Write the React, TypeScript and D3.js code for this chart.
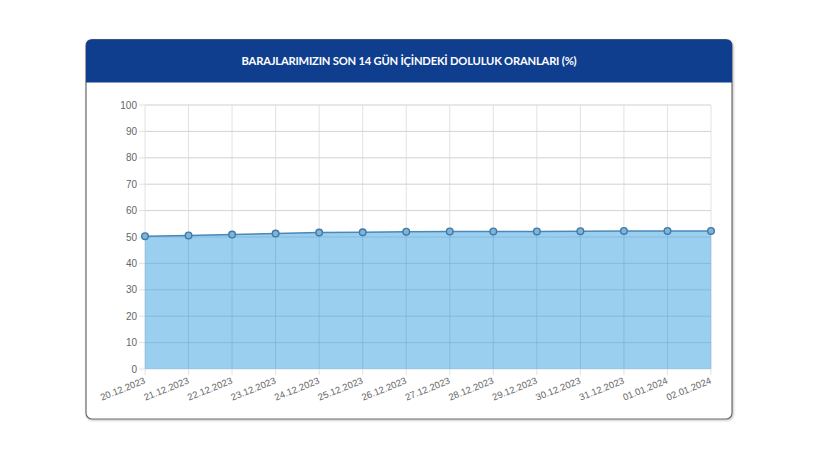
import React from "react";
import * as d3 from "d3";

const TITLE = "BARAJLARIMIZIN SON 14 GÜN İÇİNDEKİ DOLULUK ORANLARI (%)";
const dates = [
  "20.12.2023", "21.12.2023", "22.12.2023", "23.12.2023", "24.12.2023",
  "25.12.2023", "26.12.2023", "27.12.2023", "28.12.2023", "29.12.2023",
  "30.12.2023", "31.12.2023", "01.01.2024", "02.01.2024",
];
const values = [50.3, 50.6, 50.9, 51.3, 51.7, 51.8, 52.0, 52.1, 52.1, 52.1, 52.2, 52.3, 52.3, 52.3];
const yTicks = [0, 10, 20, 30, 40, 50, 60, 70, 80, 90, 100];

const W = 820, H = 461;
const card = { x: 86, y: 39.5, w: 646, h: 379.5, header: 43 };
const plot = { left: 145, right: 711, top: 105, bottom: 369 };

export default function App() {
  const x = d3.scalePoint<string>().domain(dates).range([plot.left, plot.right]);
  const y = d3.scaleLinear().domain([0, 100]).range([plot.bottom, plot.top]);
  const pts = dates.map((d, i) => ({ d, v: values[i] }));
  const area = d3.area<{ d: string; v: number }>()
    .x(p => x(p.d)!).y0(y(0)).y1(p => y(p.v));
  const line = d3.line<{ d: string; v: number }>().x(p => x(p.d)!).y(p => y(p.v));
  const r = 6;
  const headerPath = `M${card.x},${card.y + card.header} V${card.y + r} Q${card.x},${card.y} ${card.x + r},${card.y} H${card.x + card.w - r} Q${card.x + card.w},${card.y} ${card.x + card.w},${card.y + r} V${card.y + card.header} Z`;
  return (
    <div style={{ position: "absolute", left: 0, top: 0 }}>
      <svg width={W} height={H} style={{ display: "block", background: "#fff" }}>
        <defs>
          <filter id="sh" x="-5%" y="-5%" width="110%" height="110%">
            <feDropShadow dx="1" dy="1" stdDeviation="1.2" floodColor="#000" floodOpacity="0.25" />
          </filter>
        </defs>
        <rect x={card.x} y={card.y} width={card.w} height={card.h} rx={r} fill="#fff" stroke="#6a6a6a" strokeWidth={1.2} filter="url(#sh)" />
        <path d={headerPath} fill="#0f3e8f" />
        <text x={card.x + card.w / 2 + 0} y={card.y + card.header / 2 + 4} textAnchor="middle" fill="#fff"
          fontFamily="Lato, 'Open Sans', sans-serif" fontWeight={700} fontSize={11.2} letterSpacing={-0.2}>{TITLE}</text>
        {/* grid */}
        {yTicks.map(t => (
          <line key={"h" + t} x1={plot.left - 6} x2={plot.right} y1={y(t)} y2={y(t)} stroke="#e2e2e2" strokeWidth={1} />
        ))}
        {dates.map(d => (
          <line key={"v" + d} x1={x(d)} x2={x(d)} y1={plot.top} y2={plot.bottom + 6} stroke="#e2e2e2" strokeWidth={1} />
        ))}
        <path d={area(pts)!} fill="rgba(100,182,232,0.65)" />
        {yTicks.filter(t => t > 0).map(t => (
          <line key={"hh" + t} x1={plot.left} x2={plot.right} y1={y(t)} y2={y(t)} stroke="rgba(60,120,170,0.12)" strokeWidth={1} />
        ))}
        {dates.map(d => (
          <line key={"vv" + d} x1={x(d)} x2={x(d)} y1={y(values[dates.indexOf(d)])} y2={plot.bottom} stroke="rgba(60,120,170,0.12)" strokeWidth={1} />
        ))}
        <path d={line(pts)!} fill="none" stroke="#4a88b8" strokeWidth={1.5} />
        {pts.map(p => (
          <circle key={"c" + p.d} cx={x(p.d)} cy={y(p.v)} r={3.3} fill="#7fb3d8" stroke="#3f79a8" strokeWidth={1.4} />
        ))}
        {yTicks.map(t => (
          <text key={"yl" + t} x={plot.left - 8} y={y(t) + 3.5} textAnchor="end" fontSize={10}
            fontFamily="'Liberation Sans', Arial, sans-serif" fill="#666">{t}</text>
        ))}
        {dates.map(d => (
          <text key={"xl" + d} transform={`translate(${x(d)! + 1},${plot.bottom + 14}) rotate(-22)`} textAnchor="end"
            fontSize={9.5} fontFamily="'Liberation Sans', Arial, sans-serif" fill="#666">{d}</text>
        ))}
      </svg>
    </div>
  );
}
